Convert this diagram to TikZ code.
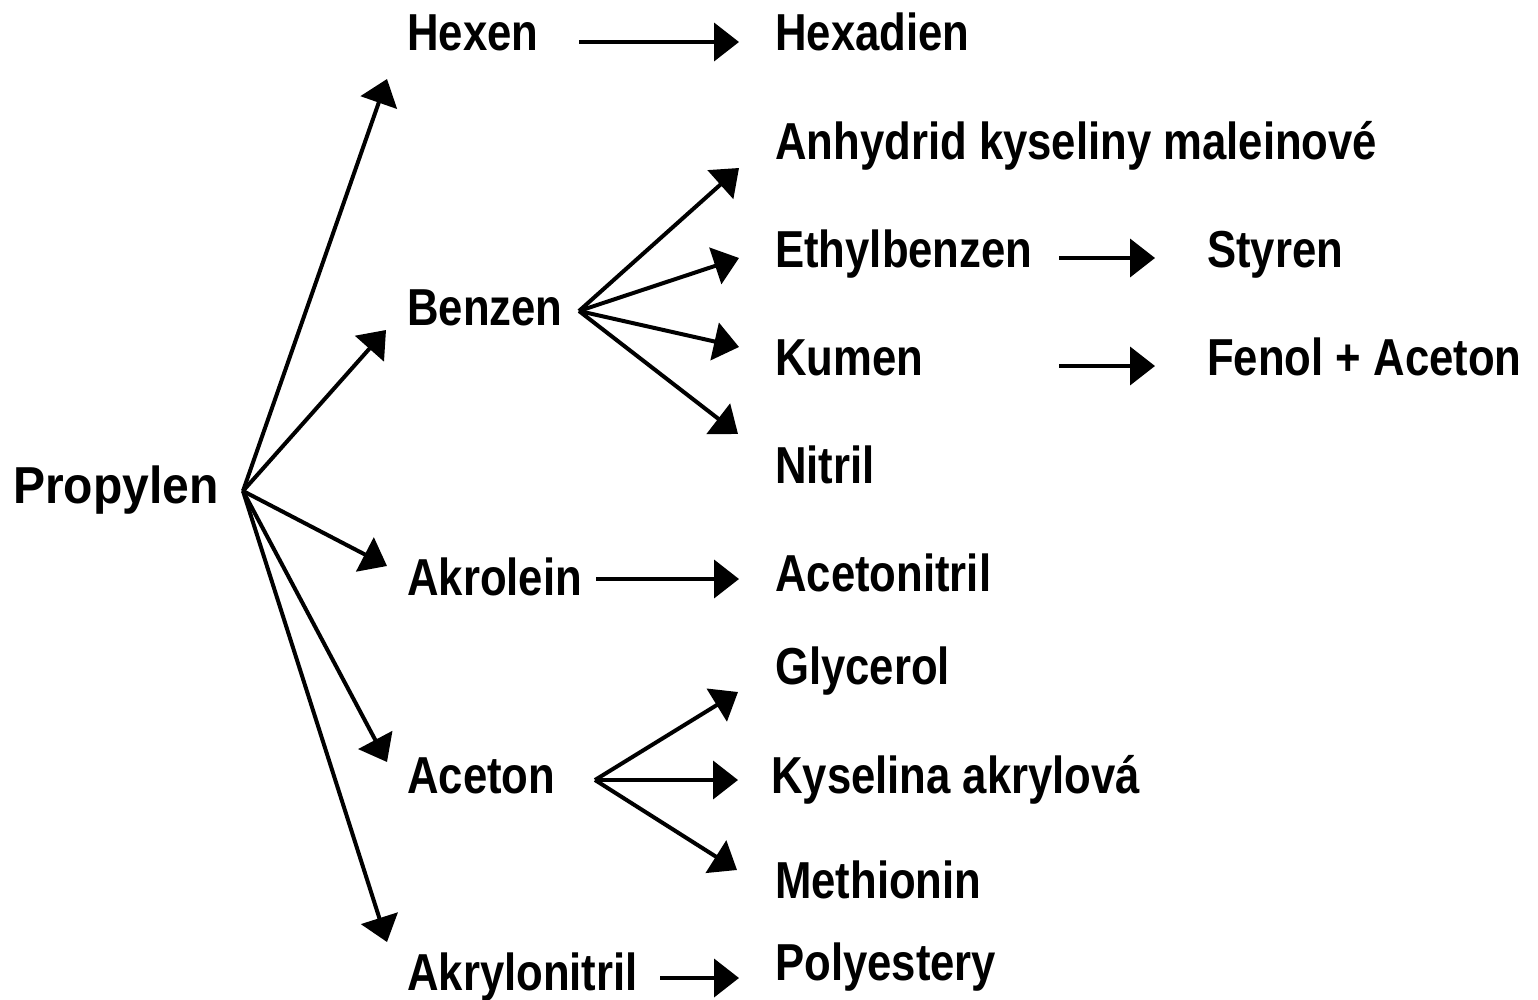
\documentclass[tikz,border=0pt]{standalone}
\usepackage{fontspec}
\setmainfont{Liberation Sans}[FakeStretch=0.84]
\usetikzlibrary{arrows.meta}
\begin{document}
\begin{tikzpicture}[x=1pt,y=-1pt,
  lbl/.style={anchor=base west,inner sep=0pt,font=\fontsize{52}{60}\selectfont\bfseries},
  arr/.style={line width=4pt,-{Triangle[length=25pt,width=38pt]}}]
\useasboundingbox (0,0) rectangle (1538,1000);
% nodes
\node[lbl,xscale=1.10,transform shape] (prop) at (13,503) {Propylen};
\node[lbl] (hexen) at (407,51) {Hexen};
\node[lbl] (hexad) at (775,51) {Hexadien};
\node[lbl] (anhy) at (775,160) {Anhydrid kyseliny maleinové};
\node[lbl] (ethyl) at (775,268) {Ethylbenzen};
\node[lbl] (styr) at (1207,268) {Styren};
\node[lbl] (benz) at (407,325) {Benzen};
\node[lbl] (kum) at (775,375) {Kumen};
\node[lbl] (fenol) at (1207,375) {Fenol + Aceton};
\node[lbl] (nitr) at (775,483) {Nitril};
\node[lbl] (akrol) at (407,595) {Akrolein};
\node[lbl] (acnit) at (775,591) {Acetonitril};
\node[lbl] (glyc) at (775,684) {Glycerol};
\node[lbl] (acet) at (407,793) {Aceton};
\node[lbl] (kysak) at (771,793) {Kyselina akrylová};
\node[lbl] (meth) at (775,898) {Methionin};
\node[lbl] (akryl) at (407,990) {Akrylonitril};
\node[lbl] (poly) at (775,980) {Polyestery};
% coordinates
\coordinate (pO) at (243,491);
\coordinate (tHexen) at (387,79);
\coordinate (tBenz) at (386,330);
\coordinate (tAkrol) at (387,566);
\coordinate (tAcet) at (387,762);
\coordinate (tAkryl) at (387,942);
\coordinate (bO) at (579,311);
\coordinate (aO) at (595,780);
% propylen fan
\draw[arr] (pO) -- (tHexen);
\draw[arr] (pO) -- (tBenz);
\draw[arr] (pO) -- (tAkrol);
\draw[arr] (pO) -- (tAcet);
\draw[arr] (pO) -- (tAkryl);
% benzen fan
\draw[arr] (bO) -- (739,168);
\draw[arr] (bO) -- (739,258);
\draw[arr] (bO) -- (739,347);
\draw[arr] (bO) -- (738,434);
% aceton fan
\draw[arr] (aO) -- (738,692);
\draw[arr] (aO) -- (738,780);
\draw[arr] (aO) -- (737,870);
% straight arrows
\draw[arr] (579,42) -- (739,42);
\draw[arr] (1059,258) -- (1155,258);
\draw[arr] (1059,366) -- (1155,366);
\draw[arr] (596,579) -- (739,579);
\draw[arr] (660,978) -- (739,978);
\end{tikzpicture}
\end{document}
